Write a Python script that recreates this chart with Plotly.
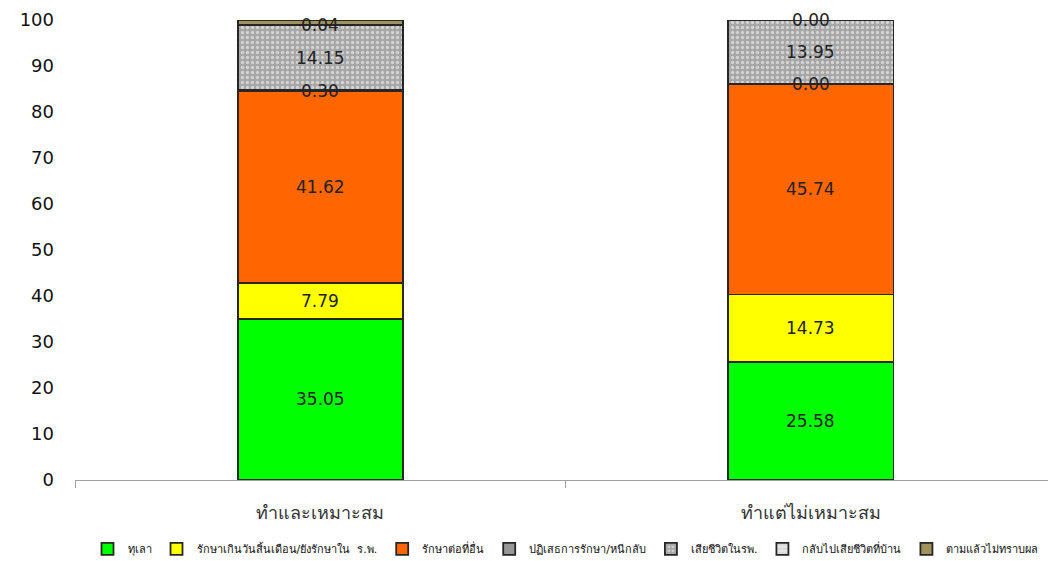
import plotly.graph_objects as go

categories = ["ทำและเหมาะสม", "ทำแต่ไม่เหมาะสม"]
series_names = ["ทุเลา", "รักษาเกินวันสิ้นเดือน/ยังรักษาใน  ร.พ.", "รักษาต่อที่อื่น",
                "ปฏิเสธการรักษา/หนีกลับ", "เสียชีวิตในรพ.", "กลับไปเสียชีวิตที่บ้าน", "ตามแล้วไม่ทราบผล"]
improved = [35.05, 25.58]
still_treating = [7.79, 14.73]
referred = [41.62, 45.74]
refused = [0.30, 0.00]
died_hosp = [14.15, 13.95]
died_home = [0.04, 0.00]
unknown = [1.05, 0.00]
values = [improved, still_treating, referred, refused, died_hosp, died_home, unknown]
show_labels = [True, True, True, True, True, True, False]

colors = ["#00FF00", "#FFFF00", "#FF6600", "#969696", "#A6A6A6", "#D9D9D9", "#A0925A"]
patterns = ["", "", "", "", ".", "-", ""]

FONT = "'DejaVu Sans', Tahoma, sans-serif"

fig = go.Figure()
base = [0.0] * len(categories)
for name, vals, col, pat, lab in zip(series_names, values, colors, patterns, show_labels):
    marker = dict(color=col, line=dict(color="#262626", width=1.8))
    if pat:
        marker["pattern"] = dict(shape=pat, fgcolor="white", bgcolor=col, size=5, solidity=0.35)
    fig.add_trace(go.Bar(name=name, x=categories, y=vals, marker=marker))
    if lab:
        for i, (c, v) in enumerate(zip(categories, vals)):
            fig.add_annotation(x=c, y=round(base[i] + v / 2, 4), text=f"{v:.2f}", showarrow=False,
                               font=dict(size=17, color="#222222", family=FONT),
                               xref="x", yref="y")
    base = [round(b + v, 4) for b, v in zip(base, vals)]

fig.update_layout(
    barmode="stack", bargap=0.663,
    width=1048, height=553,
    margin=dict(l=67, r=0, t=12, b=81, autoexpand=False),
    plot_bgcolor="white", paper_bgcolor="white",
    font=dict(family=FONT, color="#333333"),
    showlegend=True,
    legend=dict(orientation="h", x=0.5, xanchor="center", xref="paper",
                y=0.022, yanchor="middle", yref="container",
                font=dict(size=11, color="#111111"), traceorder="normal",
                itemwidth=30, tracegroupgap=0),
)
fig.update_xaxes(showline=True, linecolor="#A0A0A0", linewidth=1, ticks="outside",
                 tickson="boundaries", ticklen=7, tickcolor="#A0A0A0",
                 tickfont=dict(size=18, color="#333333"), ticklabelstandoff=16)
fig.update_yaxes(range=[0, 100], dtick=10, showgrid=False, zeroline=False, showline=False,
                 tickfont=dict(size=18, color="#111111"), ticklabelstandoff=20)

fig.write_html("out.html")
